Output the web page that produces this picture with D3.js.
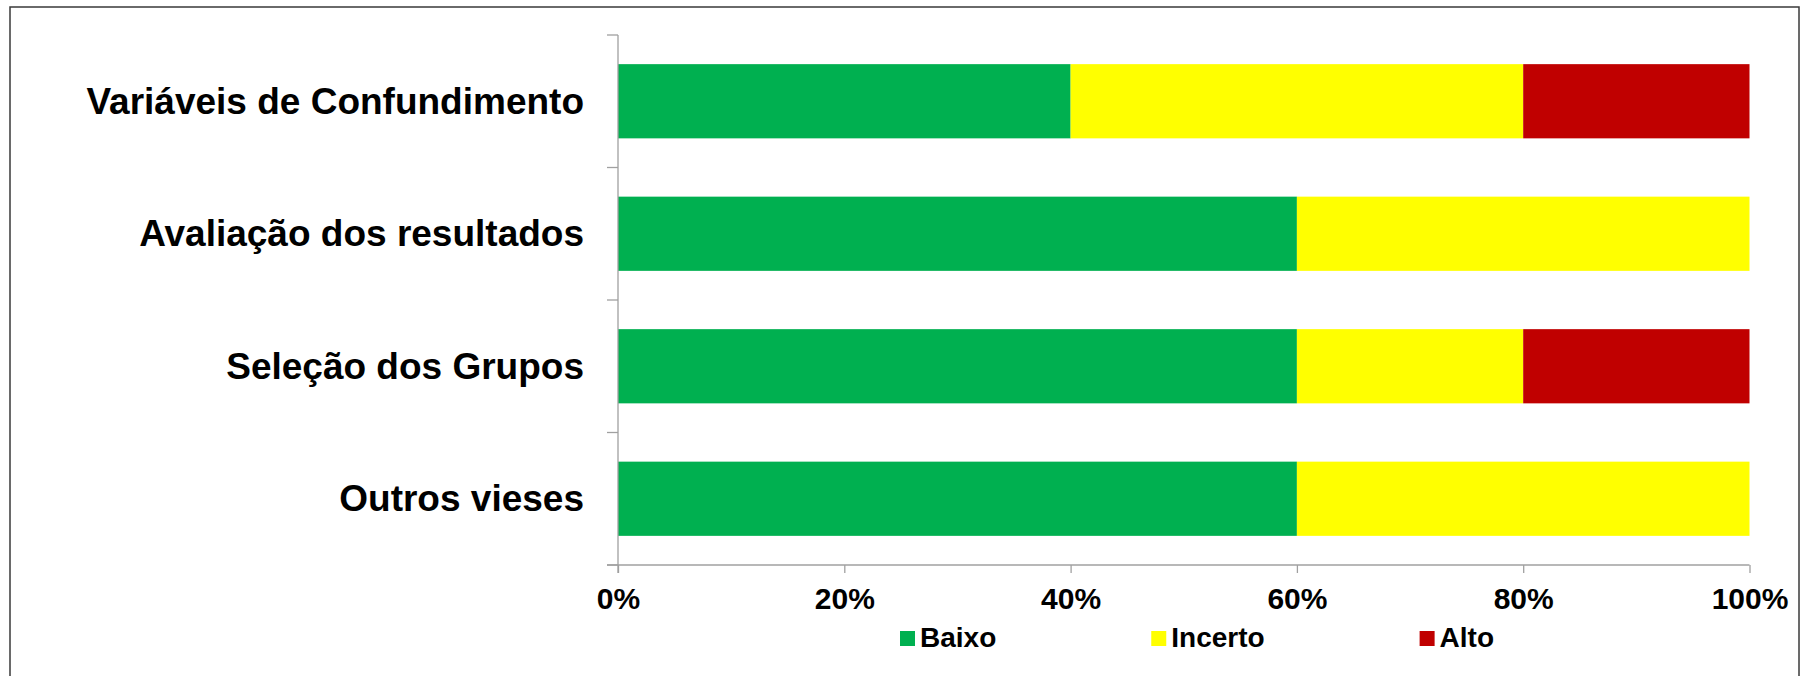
<!DOCTYPE html>
<html>
<head>
<meta charset="utf-8">
<script src="https://cdn.jsdelivr.net/npm/d3@7"></script>
<style>
  html, body { margin: 0; padding: 0; background: #fff; }
  svg { display: block; }
  text { font-family: "Liberation Sans", Arial, sans-serif; }
</style>
</head>
<body>
<svg id="chart" width="1802" height="676"></svg>
<script>
// ---- data ----
const categories = ["Variáveis de Confundimento", "Avaliação dos resultados", "Seleção dos Grupos", "Outros vieses"];
const seriesNames = ["Baixo", "Incerto", "Alto"];
const baixo   = [40, 60, 60, 60];
const incerto = [40, 40, 20, 40];
const alto    = [20, 0, 20, 0];
const xTickValues = [0, 20, 40, 60, 80, 100];
const seriesColors = ["#00B050", "#FFFF00", "#C00000"];

// ---- build table ----
const table = categories.map((c, i) => ({ category: c, Baixo: baixo[i], Incerto: incerto[i], Alto: alto[i] }));

const svg = d3.select("#chart");

// outer frame
svg.append("rect")
  .attr("x", 10).attr("y", 7)
  .attr("width", 1789).attr("height", 700)
  .attr("fill", "none").attr("stroke", "#3a3a3a").attr("stroke-width", 1.5);

const plotLeft = 618, plotRight = 1749.5, plotTop = 35, plotBottom = 565;
const x = d3.scaleLinear().domain([0, 100]).range([plotLeft, plotRight]);
const y = d3.scaleBand().domain(categories).range([plotTop, plotBottom]).paddingInner(0.44).paddingOuter(0.22);
const color = d3.scaleOrdinal().domain(seriesNames).range(seriesColors);

const stacked = d3.stack().keys(seriesNames)(table);

// bars
svg.append("g").selectAll("g").data(stacked).join("g")
  .attr("fill", d => color(d.key))
  .selectAll("rect").data(d => d).join("rect")
  .attr("x", d => x(d[0]))
  .attr("y", d => y(d.data.category))
  .attr("width", d => Math.max(0, x(d[1]) - x(d[0])))
  .attr("height", y.bandwidth());

const axisColor = "#a0a0a0";

// x axis
const xAxis = svg.append("g")
  .attr("transform", `translate(0,${plotBottom})`)
  .call(d3.axisBottom(x).tickValues(xTickValues).tickSize(8).tickPadding(15).tickFormat(d => d + "%"));
xAxis.select(".domain").remove();
xAxis.selectAll(".tick line").attr("stroke", axisColor).attr("stroke-width", 1.3);
xAxis.selectAll(".tick text")
  .attr("font-family", "'Liberation Sans', Arial, sans-serif")
  .attr("font-size", 30).attr("font-weight", "bold").attr("fill", "#000");
svg.append("line")
  .attr("x1", plotLeft - 11).attr("x2", plotRight)
  .attr("y1", plotBottom).attr("y2", plotBottom)
  .attr("stroke", axisColor).attr("stroke-width", 1.3);

// y axis
const yAxis = svg.append("g")
  .attr("transform", `translate(${plotLeft},0)`)
  .call(d3.axisLeft(y).tickSize(0).tickPadding(34));
yAxis.select(".domain").remove();
yAxis.selectAll(".tick text")
  .attr("font-family", "'Liberation Sans', Arial, sans-serif")
  .attr("font-size", 37).attr("font-weight", "bold").attr("fill", "#000")
  .attr("dy", "0.34em");
svg.append("line")
  .attr("x1", plotLeft).attr("x2", plotLeft)
  .attr("y1", plotTop).attr("y2", plotBottom + 8)
  .attr("stroke", axisColor).attr("stroke-width", 1.3);
const gap = (y.step() - y.bandwidth()) / 2;
const boundaries = categories.map(c => y(c) - gap).concat([plotBottom]);
svg.append("g").selectAll("line").data(boundaries).join("line")
  .attr("x1", plotLeft - 11).attr("x2", plotLeft)
  .attr("y1", d => d).attr("y2", d => d)
  .attr("stroke", axisColor).attr("stroke-width", 1.3);

// legend
const legend = svg.append("g").attr("transform", "translate(900,0)");
let lx = 0;
seriesNames.forEach((name) => {
  const g = legend.append("g").attr("transform", `translate(${lx},0)`);
  g.append("rect").attr("x", 0).attr("y", 631).attr("width", 15).attr("height", 15).attr("fill", color(name));
  const t = g.append("text").attr("x", 20).attr("y", 647)
    .attr("font-size", 28).attr("font-weight", "bold").attr("fill", "#000").text(name);
  lx += 20 + t.node().getComputedTextLength() + 155;
});
</script>
</body>
</html>
